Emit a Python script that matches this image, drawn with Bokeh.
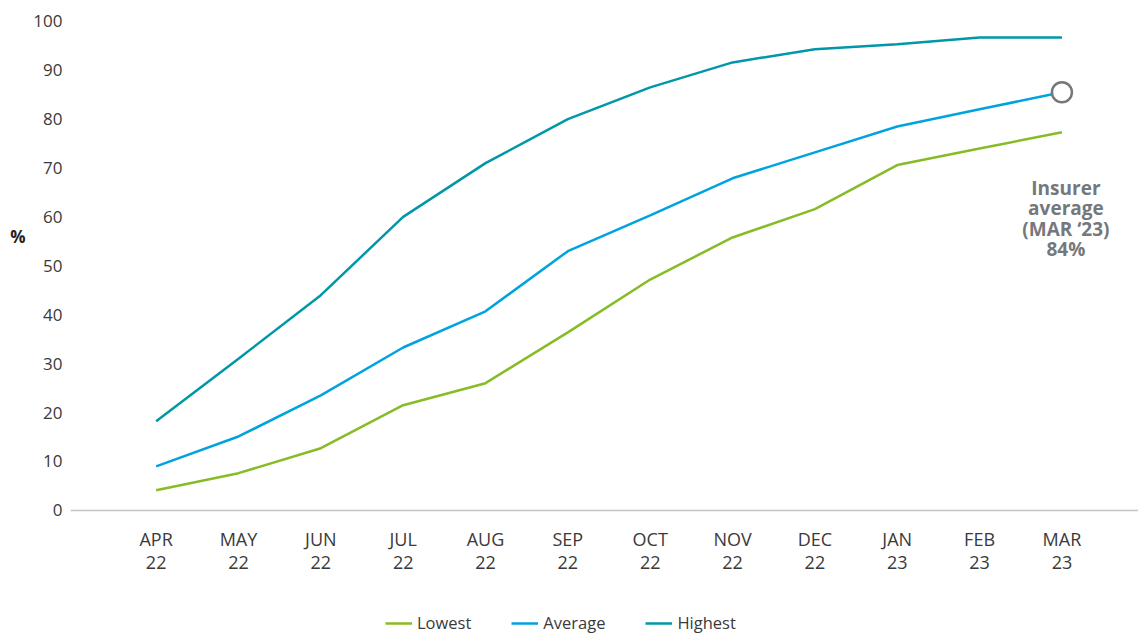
from bokeh.plotting import figure
from bokeh.models import FixedTicker, Range1d, Legend, LegendItem, LinearAxis
from bokeh.core.properties import value
from bokeh.embed import file_html
from bokeh.resources import INLINE

months = ["APR\n22", "MAY\n22", "JUN\n22", "JUL\n22", "AUG\n22", "SEP\n22",
          "OCT\n22", "NOV\n22", "DEC\n22", "JAN\n23", "FEB\n23", "MAR\n23"]
lowest = [4.1, 7.6, 12.7, 21.5, 26.0, 36.4, 47.2, 55.8, 61.6, 70.6, 74.0, 77.3]
average = [9.0, 15.1, 23.5, 33.3, 40.7, 53.0, 60.3, 67.9, 73.2, 78.5, 82.0, 85.5]
highest = [18.2, 31.0, 44.0, 60.0, 71.0, 80.0, 86.5, 91.6, 94.3, 95.3, 96.7, 96.7]
y_ticks = [0, 10, 20, 30, 40, 50, 60, 70, 80, 90, 100]
annotation = "Insurer\naverage\n(MAR \u201823)\n84%"
unit_label = "%"

FONT = "Open Sans"
C_LOW = "#86BC25"
C_AVG = "#00A3E0"
C_HIGH = "#0097A9"
C_GREY = "#75787B"

xs = list(range(len(months)))

# the frame runs to the bottom of the canvas; the x axis is drawn at y = 0 inside it
p = figure(width=1138, height=635, output_backend="svg", toolbar_location=None,
           x_range=Range1d(-1.04, 11.93), y_range=Range1d(-25.6, 101.6),
           min_border_left=70, min_border_right=0, min_border_top=13, min_border_bottom=0)
p.outline_line_color = None
p.xgrid.grid_line_color = None
p.ygrid.grid_line_color = None

r_low = p.line(xs, lowest, line_color=C_LOW, line_width=2.5)
r_avg = p.line(xs, average, line_color=C_AVG, line_width=2.5)
r_high = p.line(xs, highest, line_color=C_HIGH, line_width=2.5)

p.scatter([xs[-1]], [average[-1]], size=20, marker="circle", fill_color="white",
          line_color=C_GREY, line_width=2.5)

p.text([xs[-1]], [average[-1]], text=[annotation], x_offset=4, y_offset=83,
       text_align="center", text_baseline="top", text_font=value(FONT),
       text_font_style="bold", text_font_size="19px", text_color=C_GREY,
       text_line_height=0.78)

# x axis
xa = p.xaxis[0]
xa.fixed_location = 0
xa.ticker = FixedTicker(ticks=xs)
xa.major_label_overrides = {i: m for i, m in enumerate(months)}
xa.major_tick_out = 0
xa.major_tick_in = 0
xa.minor_tick_out = 0
xa.minor_tick_in = 0
xa.axis_line_color = "#c4c4c4"
xa.axis_line_width = 1.5
xa.major_label_standoff = 17
xa.major_label_text_font = FONT
xa.major_label_text_font_size = "18px"
xa.major_label_text_color = "#3a3a3a"
xa.major_label_text_line_height = 0.95

# y axis
ya = p.yaxis[0]
ya.ticker = FixedTicker(ticks=y_ticks)
ya.axis_line_color = None
ya.major_tick_out = 0
ya.major_tick_in = 0
ya.minor_tick_out = 0
ya.minor_tick_in = 0
ya.major_label_standoff = 8
ya.major_label_text_font = FONT
ya.major_label_text_font_size = "17px"
ya.major_label_text_color = "#3a3a3a"

# unit label "%" placed beside the value axis, a little above its middle
pax = LinearAxis(ticker=FixedTicker(ticks=[56]), major_label_overrides={56: unit_label},
                 axis_line_color=None, major_tick_out=0, major_tick_in=0,
                 minor_tick_out=0, minor_tick_in=0, major_label_standoff=5,
                 major_label_text_font=FONT, major_label_text_font_style="bold",
                 major_label_text_font_size="17px", major_label_text_color="#222222")
p.add_layout(pax, "left")

legend = Legend(items=[LegendItem(label="Lowest", renderers=[r_low]),
                       LegendItem(label="Average", renderers=[r_avg]),
                       LegendItem(label="Highest", renderers=[r_high])],
                orientation="horizontal", location=(315, 1),
                glyph_width=27, glyph_height=20, label_standoff=5, spacing=40,
                padding=0, margin=0, border_line_alpha=0, background_fill_alpha=0,
                label_text_font=FONT, label_text_font_size="16.5px",
                label_text_color="#3a3a3a", label_height=20)
p.add_layout(legend, "center")

open("out.html", "w").write(file_html(p, INLINE))
